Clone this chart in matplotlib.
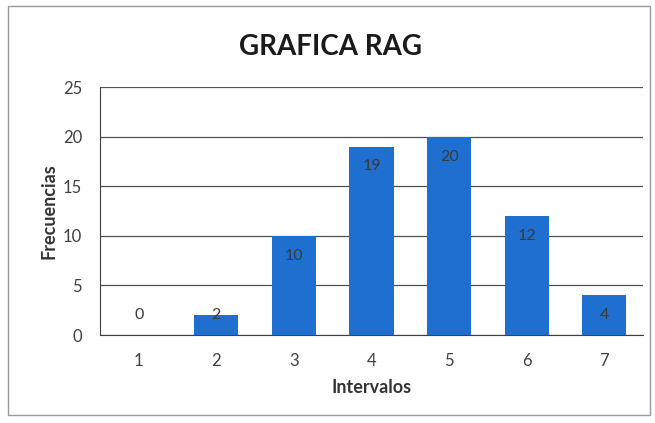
import numpy as np
import matplotlib
matplotlib.use('Agg')
import matplotlib.pyplot as plt
from matplotlib.patches import Rectangle

plt.rcParams['font.family'] = ['Lato', 'DejaVu Sans']

intervalos = ['1', '2', '3', '4', '5', '6', '7']
frecuencias = [0, 2, 10, 19, 20, 12, 4]

fig = plt.figure(figsize=(6.55, 4.23), dpi=100)
ax = fig.add_axes([0.1527, 0.208, 0.829, 0.586])

x = np.arange(len(intervalos))
ax.bar(x, frecuencias, width=0.57, color='#1f6fd1', zorder=3)

# value labels, inside the bar end (small bars keep label near base)
for xi, v in zip(x, frecuencias):
    ax.text(xi, max(v - 2, 2), str(v), ha='center', va='center',
            fontsize=11.5, color='#3a3a3a', zorder=4)

ax.set_xlim(-0.5, len(intervalos) - 0.5)
ax.set_ylim(0, 25)
ax.set_yticks(range(0, 26, 5))
ax.set_xticks(x)
ax.set_xticklabels(intervalos)
ax.tick_params(length=0, labelsize=12, colors='#404040')
ax.tick_params(axis='y', pad=13)
ax.tick_params(axis='x', pad=13)
ax.yaxis.grid(True, color='#505050', linewidth=0.9, zorder=0)

for s in ['top', 'right']:
    ax.spines[s].set_visible(False)
ax.spines['left'].set_color('#404040')
ax.spines['bottom'].set_color('#404040')

ax.set_xlabel('Intervalos', fontsize=13, fontweight='bold', color='#333333', labelpad=7)
ax.set_ylabel('Frecuencias', fontsize=13, fontweight='bold', color='#333333', labelpad=4)

fig.text(0.505, 0.89, 'GRAFICA RAG', ha='center', va='center',
         fontsize=20, fontweight='bold', color='#1a1a1a')

# chart area border
fig.patches.append(Rectangle((0.012, 0.02), 0.98, 0.965, transform=fig.transFigure,
                             fill=False, edgecolor='#9a9a9a', linewidth=1.0))

fig.savefig('out.png', dpi=100)
